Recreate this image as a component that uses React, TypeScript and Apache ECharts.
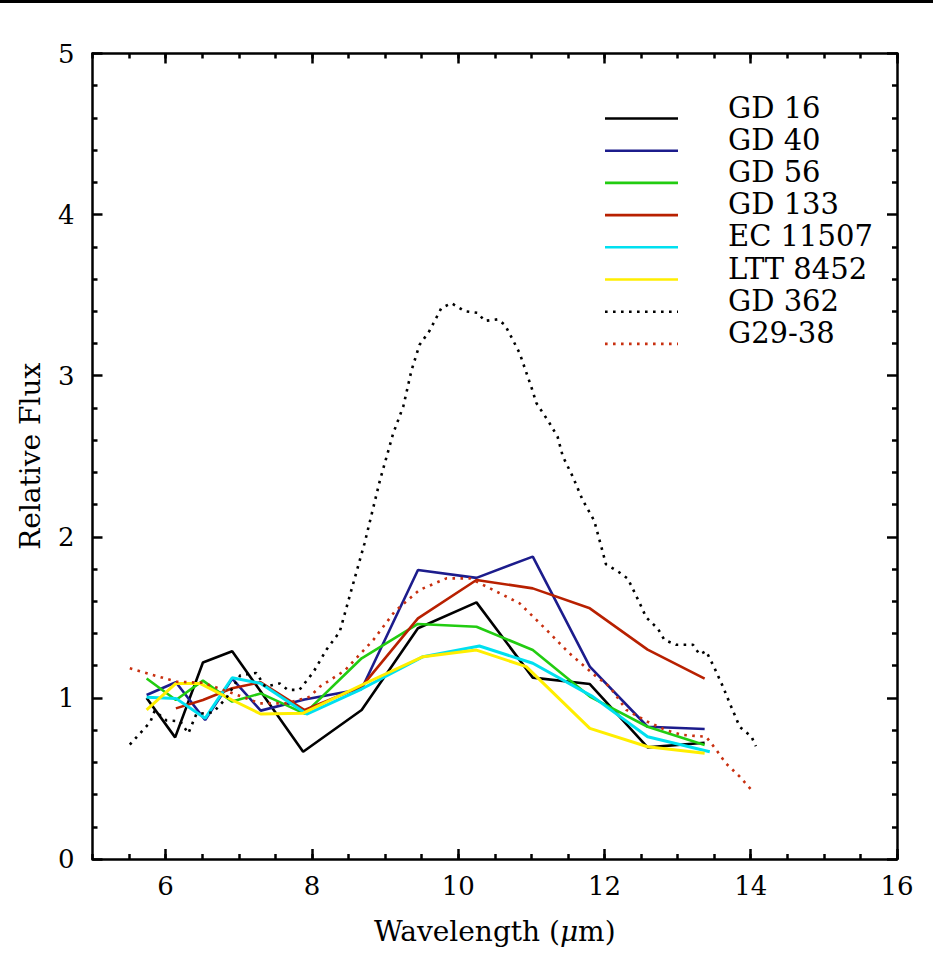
import React, { useEffect, useRef } from "react";
import * as echarts from "echarts";

// ---- data ----
const seriesNames = ["GD 16", "GD 40", "GD 56", "GD 133", "EC 11507", "LTT 8452", "GD 362", "G29-38"];
const seriesColors = ["#000000", "#1c1c8c", "#22cc11", "#b82000", "#00e0f0", "#ffee00", "#000000", "#c83010"];
const seriesDotted = [false, false, false, false, false, false, true, true];

const gd16 = [[5.74, 1.0], [6.13, 0.755], [6.51, 1.22], [6.91, 1.29], [7.88, 0.666], [8.68, 0.925], [9.45, 1.432], [10.25, 1.593], [11.02, 1.126], [11.8, 1.086], [12.59, 0.693], [13.37, 0.722]];
const gd40 = [[5.74, 1.018], [6.14, 1.097], [6.54, 0.863], [6.91, 1.119], [7.3, 0.921], [7.9, 0.99], [8.68, 1.055], [9.45, 1.794], [10.25, 1.745], [11.02, 1.877], [11.8, 1.194], [12.59, 0.821], [13.37, 0.807]];
const gd56 = [[5.74, 1.12], [6.14, 0.987], [6.51, 1.107], [6.91, 0.977], [7.3, 1.028], [7.9, 0.902], [8.68, 1.246], [9.45, 1.459], [10.25, 1.442], [11.02, 1.297], [11.8, 1.008], [12.59, 0.821], [13.37, 0.708]];
const gd133 = [[6.14, 0.935], [6.51, 0.987], [6.91, 1.06], [7.3, 1.097], [7.9, 0.925], [8.68, 1.07], [9.45, 1.494], [10.25, 1.732], [11.02, 1.68], [11.8, 1.556], [12.59, 1.3], [13.37, 1.12]];
const ec11507 = [[5.74, 1.004], [6.14, 0.997], [6.54, 0.873], [6.91, 1.125], [7.3, 1.09], [7.93, 0.9], [8.68, 1.055], [9.52, 1.256], [10.29, 1.322], [11.02, 1.215], [11.84, 1.008], [12.59, 0.759], [13.44, 0.666]];
const ltt8452 = [[5.74, 0.925], [6.14, 1.09], [6.47, 1.09], [6.91, 0.987], [7.3, 0.9], [7.88, 0.905], [8.68, 1.08], [9.52, 1.256], [10.25, 1.297], [10.93, 1.194], [11.8, 0.811], [12.59, 0.697], [13.37, 0.656]];
const gd362 = [[5.51, 0.71], [5.65, 0.78], [5.79, 0.85], [5.85, 0.92], [6.01, 0.86], [6.2, 0.855], [6.31, 0.78], [6.42, 0.9], [6.65, 0.91], [6.83, 1.0], [7.02, 1.14], [7.24, 1.155], [7.36, 1.07], [7.56, 1.09], [7.67, 1.05], [7.83, 1.05], [8.02, 1.16], [8.2, 1.3], [8.38, 1.41], [8.54, 1.67], [8.72, 1.96], [8.93, 2.35], [9.11, 2.64], [9.25, 2.81], [9.36, 3.03], [9.47, 3.19], [9.61, 3.28], [9.77, 3.42], [9.91, 3.45], [10.09, 3.4], [10.27, 3.39], [10.36, 3.34], [10.54, 3.35], [10.64, 3.315], [10.75, 3.22], [10.84, 3.14], [11.0, 2.93], [11.07, 2.83], [11.25, 2.705], [11.36, 2.62], [11.43, 2.5], [11.57, 2.37], [11.7, 2.23], [11.86, 2.1], [11.98, 1.9], [12.02, 1.83], [12.2, 1.78], [12.32, 1.74], [12.48, 1.59], [12.57, 1.5], [12.73, 1.43], [12.82, 1.36], [12.98, 1.33], [13.21, 1.33], [13.3, 1.27], [13.39, 1.29], [13.5, 1.19], [13.62, 1.07], [13.71, 0.97], [13.85, 0.82], [14.01, 0.76], [14.07, 0.7]];
const g2938 = [[5.51, 1.184], [6.15, 1.1], [6.51, 1.094], [6.92, 1.028], [7.29, 0.966], [7.65, 0.966], [7.97, 1.007], [8.11, 1.07], [8.45, 1.17], [8.84, 1.36], [9.13, 1.535], [9.47, 1.67], [9.84, 1.742], [10.16, 1.742], [10.48, 1.67], [10.84, 1.587], [11.21, 1.421], [11.52, 1.277], [11.89, 1.132], [12.07, 1.07], [12.3, 0.925], [12.59, 0.852], [12.84, 0.8], [13.07, 0.77], [13.39, 0.759], [13.53, 0.677], [13.66, 0.594], [13.85, 0.511], [14.03, 0.418]];
const seriesData = [gd16, gd40, gd56, gd133, ec11507, ltt8452, gd362, g2938];

const xMajorTicks = [6, 8, 10, 12, 14, 16];
const yTickLabels = [0, 1, 2, 3, 4, 5];

const FONT = "DejaVu Serif";

export default function App() {
  const ref = useRef<HTMLDivElement>(null);
  useEffect(() => {
    if (!ref.current) return;
    const chart = echarts.init(ref.current, null, { renderer: "svg" });
    const black = "#000";
    const AW = 2.5;
    const grid = { left: 92.5, right: 36, top: 53.5, bottom: 99 };
    const xBase = { type: "value", min: 5, max: 16, splitLine: { show: false } };
    const lineDotted = [2.6, 5.4];

    const legendEls: any[] = [];
    seriesNames.forEach((n, i) => {
      const y = 118.5 + i * 32.2;
      legendEls.push({
        type: "line",
        shape: { x1: 605, y1: y, x2: 678, y2: y },
        style: {
          stroke: seriesColors[i],
          lineWidth: 2.6,
          lineDash: seriesDotted[i] ? lineDotted : null,
        },
      });
      legendEls.push({
        type: "text",
        x: 728,
        y: y - 11,
        style: { text: n, fill: "#000", font: `29px "${FONT}"`, verticalAlign: "middle", align: "left" },
      });
    });

    const nameStyle = { color: black, fontSize: 28, fontFamily: FONT };

    chart.setOption({
      animation: false,
      backgroundColor: "#fff",
      grid: [grid, grid],
      xAxis: [
        {
          ...xBase, gridIndex: 0, position: "bottom", interval: 0.5,
          axisLine: { show: true, onZero: false, lineStyle: { color: black, width: AW } },
          axisTick: { show: true, inside: true, length: 5, lineStyle: { color: black, width: AW } },
          axisLabel: { show: false },
        },
        {
          ...xBase, gridIndex: 0, position: "top", interval: 0.5,
          axisLine: { show: true, onZero: false, lineStyle: { color: black, width: AW } },
          axisTick: { show: true, inside: true, length: 5, lineStyle: { color: black, width: AW } },
          axisLabel: { show: false },
        },
        {
          ...xBase, gridIndex: 1, position: "bottom", interval: 1,
          axisLine: { show: false },
          axisTick: { show: true, inside: true, length: 10, customValues: xMajorTicks, lineStyle: { color: black, width: AW } },
          axisLabel: { show: true, customValues: xMajorTicks, margin: 14, color: black, fontSize: 26, fontFamily: FONT },
          name: "{a|Wavelength (}{i|μ}{a|m)}",
          nameLocation: "middle",
          nameGap: 58,
          nameTextStyle: {
            ...nameStyle,
            rich: {
              a: { ...nameStyle },
              i: { ...nameStyle, fontStyle: "italic" },
            },
          },
        },
        {
          ...xBase, gridIndex: 1, position: "top", interval: 1,
          axisLine: { show: false },
          axisTick: { show: true, inside: true, length: 10, customValues: xMajorTicks, lineStyle: { color: black, width: AW } },
          axisLabel: { show: false },
        },
      ],
      yAxis: [
        {
          type: "value", gridIndex: 0, position: "left", min: 0, max: 5, interval: 1,
          splitLine: { show: false },
          axisLine: { show: true, onZero: false, lineStyle: { color: black, width: AW } },
          axisTick: { show: true, inside: true, length: 10, lineStyle: { color: black, width: AW } },
          minorTick: { show: true, splitNumber: 5, length: 5, lineStyle: { color: black, width: AW } },
          axisLabel: {
            show: true, margin: 18, color: black, fontSize: 26, fontFamily: FONT,
            formatter: (v: number) => String(yTickLabels[Math.round(v)] ?? v),
          },
          name: "Relative Flux",
          nameLocation: "middle",
          nameGap: 48,
          nameTextStyle: nameStyle,
        },
        {
          type: "value", gridIndex: 0, position: "right", min: 0, max: 5, interval: 1,
          splitLine: { show: false },
          axisLine: { show: true, onZero: false, lineStyle: { color: black, width: AW } },
          axisTick: { show: true, inside: true, length: 10, lineStyle: { color: black, width: AW } },
          minorTick: { show: true, splitNumber: 5, length: 5, lineStyle: { color: black, width: AW } },
          axisLabel: { show: false },
        },
        {
          type: "value", gridIndex: 1, min: 0, max: 5, show: false,
        },
      ],
      series: seriesNames.map((n, i) => ({
        name: n,
        type: "line",
        xAxisIndex: 0,
        yAxisIndex: 0,
        data: seriesData[i],
        showSymbol: false,
        symbol: "none",
        lineStyle: {
          color: seriesColors[i],
          width: seriesDotted[i] ? 2.6 : i === 4 || i === 5 ? 3 : 2.6,
          type: seriesDotted[i] ? lineDotted : "solid",
          cap: "butt",
        },
        z: seriesDotted[i] ? 3 : 2,
      })),
      graphic: [
        { type: "rect", shape: { x: 0, y: 0, width: 933, height: 3 }, style: { fill: "#000" } },
        ...legendEls,
      ],
    });
    return () => chart.dispose();
  }, []);
  return <div ref={ref} style={{ position: "fixed", left: 0, top: 0, width: 933, height: 958 }} />;
}
